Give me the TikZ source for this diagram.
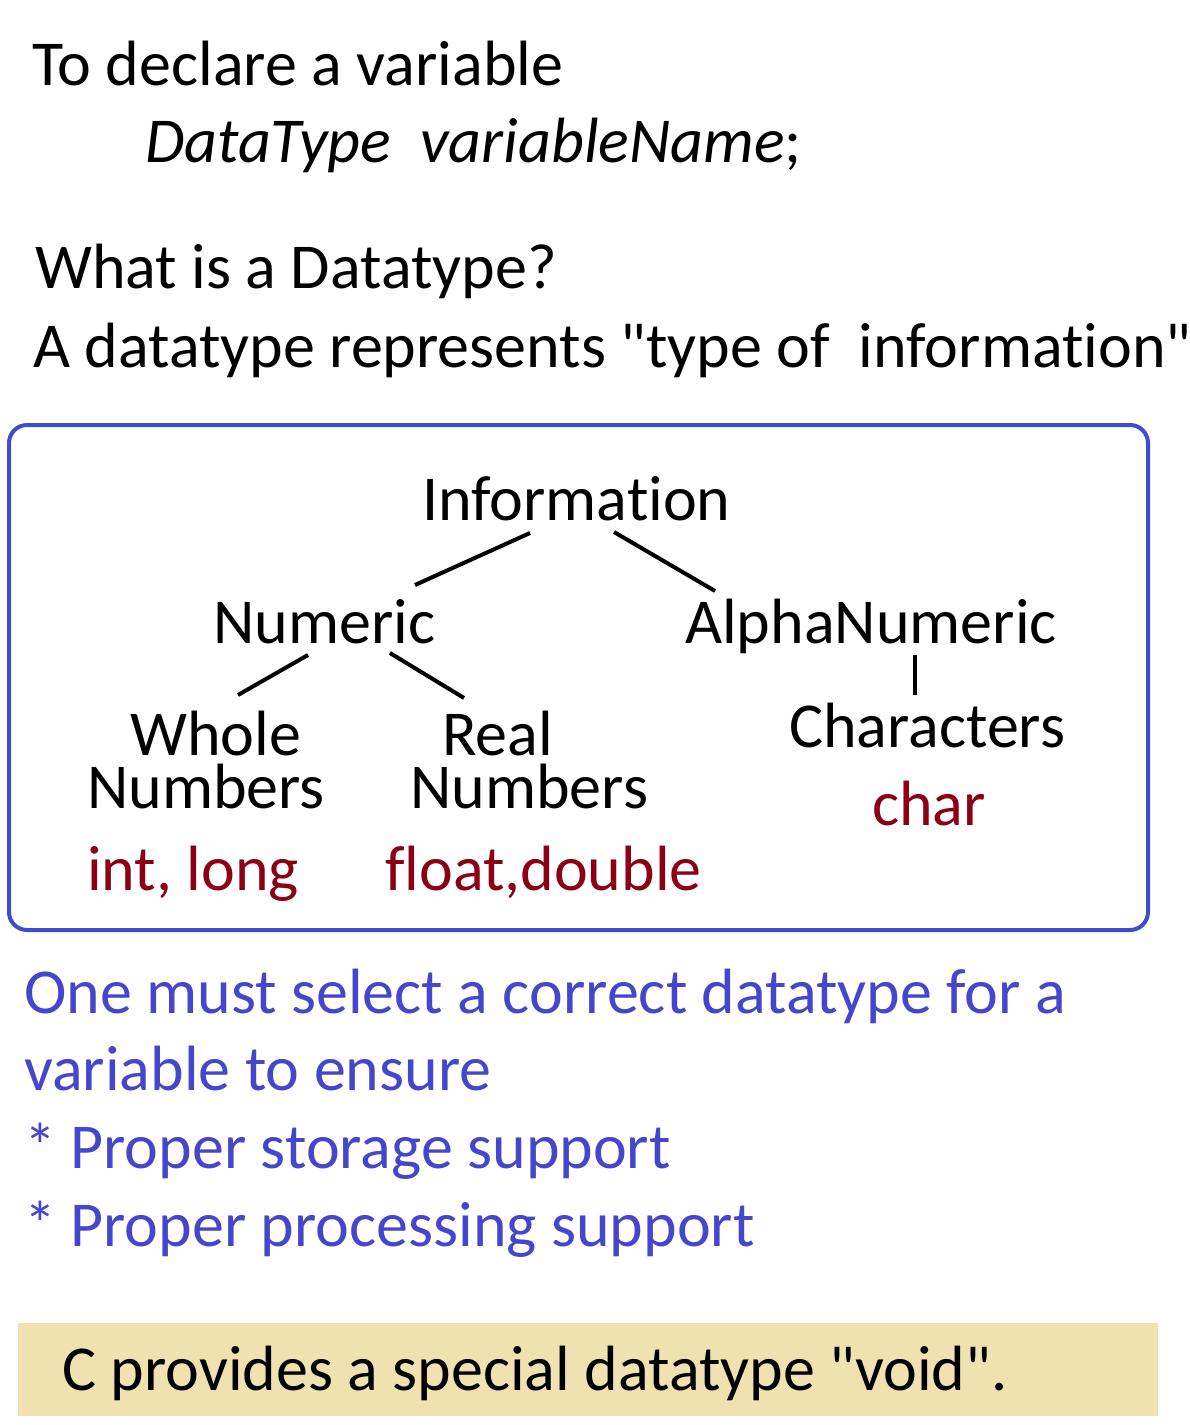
\documentclass[tikz,border=0pt]{standalone}
\usepackage{fontspec}
\setmainfont{Carlito}[Ligatures={TeXOff,NoCommon}]
\definecolor{boxblue}{RGB}{65,75,205}
\definecolor{txtblue}{RGB}{70,70,205}
\definecolor{dred}{RGB}{139,0,21}
\definecolor{tan}{RGB}{239,226,176}
\begin{document}
\begin{tikzpicture}[x=1pt,y=-1pt,
  txt/.style={anchor=base west,inner sep=0pt,font=\fontsize{64}{77}\selectfont},
  red/.style={txt,text=dred},
  blu/.style={txt,text=txtblue},
  link/.style={line width=4pt,black}]
\useasboundingbox (0,0) rectangle (1190,1425);
\node[txt] (t1) at (32,85) {To declare a variable};
\node[txt,font=\fontsize{64}{77}\selectfont\itshape] (t2) at (145,162) {DataType\ \ variableName\upshape;};
\node[txt] (t3) at (35,288) {What is a Datatype?};
\node[txt] (t4) at (33,367) {A datatype represents "type of\ \ information"};
\draw[boxblue,line width=4pt,rounded corners=18pt] (9,425) rectangle (1148,930);
\node[txt] (info) at (422,520) {Information};
\node[txt] (num) at (213,643) {Numeric};
\node[txt] (alpha) at (685,643) {AlphaNumeric};
\node[txt] (who) at (130,755) {Whole};
\node[txt] (whn) at (87,808) {Numbers};
\node[txt] (rea) at (442,755) {Real};
\node[txt] (ren) at (410,808) {Numbers};
\node[txt] (chr) at (789,747) {Characters};
\node[red] (ch) at (872,825) {char};
\node[red] (il) at (87,890) {int, long};
\node[red] (fd) at (385,890) {float,double};
\coordinate (a1) at (530,533); \coordinate (a2) at (415,585);
\coordinate (b1) at (614,532); \coordinate (b2) at (715,591);
\coordinate (c1) at (308,655); \coordinate (c2) at (238,695);
\coordinate (d1) at (390,653); \coordinate (d2) at (464,698);
\coordinate (e1) at (915,655); \coordinate (e2) at (915,695);
\draw[link] (a1) -- (a2);
\draw[link] (b1) -- (b2);
\draw[link] (c1) -- (c2);
\draw[link] (d1) -- (d2);
\draw[link] (e1) -- (e2);
\node[blu] (b1t) at (24,1013) {One must select a correct datatype for a};
\node[blu] (b2t) at (24,1090) {variable to ensure};
\node[blu] (b3t) at (24,1168) {* Proper storage support};
\node[blu] (b4t) at (24,1246) {* Proper processing support};
\fill[tan] (18,1323) rectangle (1158,1416);
\node[txt] (void) at (62,1390) {C provides a special datatype "void".};
\end{tikzpicture}
\end{document}
